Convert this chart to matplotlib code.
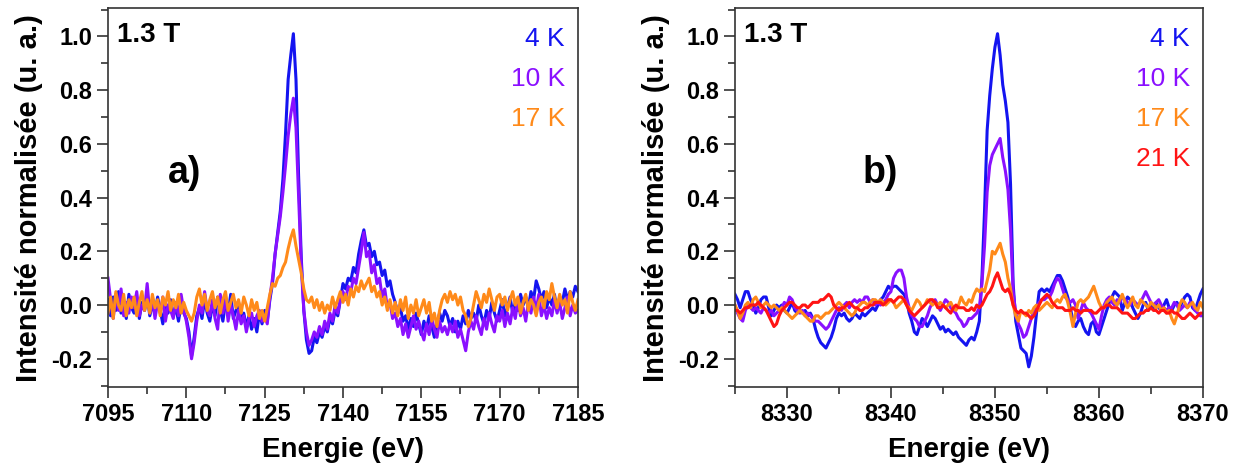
# XMCD spectra at 1.3 T for several temperatures, two edges side by side
import matplotlib
matplotlib.use("Agg")
import matplotlib.pyplot as plt
import numpy as np
from matplotlib.ticker import MultipleLocator

# ---- panel a) : 7095 - 7185 eV, one point every 0.5 eV ----
energy_a = np.linspace(7095, 7185, 181)

blue_a = [
    0.02, -0.04, 0.03, -0.02, 0.05, -0.03, 0.00, -0.05, 0.04, -0.01,
    -0.03, 0.02, -0.05, 0.01, -0.02, 0.04, -0.04, 0.00, -0.03, 0.03,
    -0.02, -0.07, 0.01, -0.03, 0.02, -0.04, -0.01, -0.06, 0.00, -0.03,
    -0.05, -0.10, -0.19, -0.12, -0.04, -0.01, -0.05, 0.02, -0.03, -0.06,
    0.00, -0.04, 0.03, -0.02, -0.06, 0.01, -0.03, 0.04, -0.05, -0.02,
    0.01, -0.06, -0.03, -0.08, -0.04, -0.09, -0.05, -0.10, -0.03, -0.07,
    -0.02, -0.06, 0.02, 0.08, 0.19, 0.27, 0.35, 0.47, 0.64, 0.84,
    0.93, 1.01, 0.84, 0.48, 0.18, -0.02, -0.13, -0.18, -0.17, -0.12,
    -0.14, -0.10, -0.12, -0.08, -0.10, -0.05, -0.07, -0.02, -0.04, 0.02,
    0.08, 0.06, 0.10, 0.09, 0.14, 0.12, 0.19, 0.24, 0.28, 0.22,
    0.23, 0.18, 0.20, 0.15, 0.16, 0.11, 0.13, 0.07, 0.09, 0.04,
    0.01, -0.03, -0.01, -0.06, -0.04, -0.09, -0.05, -0.08, -0.03, -0.07,
    -0.11, -0.06, -0.09, -0.04, -0.08, -0.12, -0.07, -0.03, -0.06, -0.02,
    -0.04, -0.08, -0.05, -0.10, -0.06, -0.09, -0.04, -0.07, -0.02, -0.05,
    -0.03, -0.06, 0.00, -0.04, -0.07, -0.02, -0.05, 0.01, -0.03, -0.06,
    -0.02, 0.02, -0.04, -0.01, 0.03, -0.03, 0.01, -0.02, 0.04, 0.00,
    0.03, -0.01, 0.05, 0.02, 0.09, 0.06, 0.02, 0.05, -0.01, 0.03,
    0.00, 0.04, -0.02, 0.03, 0.01, 0.06, 0.02, 0.05, 0.03, 0.07,
    0.05,
]

purple_a = [
    0.10, 0.02, -0.05, 0.04, -0.02, 0.06, -0.04, 0.01, -0.03, 0.03,
    -0.01, 0.05, -0.04, 0.00, -0.02, 0.08, -0.03, 0.02, -0.05, 0.01,
    -0.03, 0.03, -0.06, 0.00, -0.02, -0.05, 0.01, -0.04, 0.04, -0.02,
    -0.06, -0.12, -0.20, -0.14, -0.06, 0.00, -0.03, 0.05, -0.02, -0.04,
    0.02, -0.05, -0.09, 0.04, -0.03, 0.03, -0.06, 0.00, -0.04, -0.09,
    -0.02, -0.07, -0.04, -0.10, -0.05, -0.03, -0.08, -0.04, -0.02, -0.06,
    -0.04, -0.07, 0.03, 0.10, 0.19, 0.26, 0.33, 0.42, 0.52, 0.63,
    0.71, 0.77, 0.66, 0.40, 0.15, -0.02, -0.10, -0.15, -0.13, -0.10,
    -0.12, -0.08, -0.11, -0.06, -0.09, -0.03, -0.06, 0.00, -0.03, 0.02,
    0.05, 0.02, 0.07, 0.05, 0.10, 0.08, 0.14, 0.20, 0.27, 0.18,
    0.20, 0.12, 0.15, 0.08, 0.10, 0.03, 0.06, -0.01, 0.01, -0.05,
    -0.03, -0.08, -0.05, -0.11, -0.07, -0.12, -0.08, -0.04, -0.09, -0.06,
    -0.10, -0.13, -0.07, -0.11, -0.05, -0.09, -0.12, -0.06, -0.10, -0.08,
    -0.11, -0.07, -0.10, -0.06, -0.12, -0.09, -0.13, -0.17, -0.10, -0.06,
    -0.09, -0.04, -0.08, -0.11, -0.05, -0.09, -0.03, -0.07, -0.10, -0.04,
    -0.06, -0.02, -0.08, -0.03, -0.07, -0.01, -0.05, 0.02, -0.04, -0.01,
    -0.06, 0.01, -0.03, 0.03, -0.02, 0.04, -0.04, 0.00, -0.05, -0.01,
    -0.04, 0.02, -0.03, 0.01, -0.05, -0.01, 0.03, -0.04, 0.00, -0.03,
    -0.02,
]

orange_a = [
    -0.03, 0.03, -0.05, 0.05, 0.00, -0.02, 0.04, -0.04, 0.02, -0.01,
    0.03, -0.04, 0.01, 0.05, -0.02, 0.02, -0.03, 0.04, -0.01, 0.02,
    -0.04, 0.03, 0.00, 0.05, -0.02, 0.02, -0.01, 0.04, -0.03, 0.01,
    -0.02, -0.04, -0.06, -0.03, 0.03, 0.06, 0.00, 0.04, -0.02, 0.02,
    0.05, -0.01, 0.03, -0.03, 0.02, 0.05, -0.02, 0.01, 0.04, -0.01,
    0.02, -0.03, 0.03, 0.00, -0.04, 0.02, -0.02, 0.01, -0.05, -0.02,
    -0.06, -0.01, 0.04, 0.08, 0.07, 0.10, 0.11, 0.14, 0.16, 0.21,
    0.25, 0.28, 0.22, 0.17, 0.12, 0.06, 0.02, 0.01, 0.03, -0.01,
    0.02, -0.02, 0.01, -0.03, 0.00, -0.02, 0.03, -0.01, 0.02, 0.05,
    0.01, 0.04, 0.00, 0.06, 0.03, 0.07, 0.05, 0.09, 0.06, 0.08,
    0.10, 0.05, 0.07, 0.03, 0.05, 0.00, 0.03, -0.02, 0.02, -0.03,
    0.01, -0.04, 0.02, -0.02, 0.03, -0.05, 0.00, -0.03, 0.02, -0.04,
    -0.01, 0.02, -0.03, 0.01, -0.06, -0.03, -0.08, -0.02, 0.02, 0.04,
    0.01, 0.05, 0.02, 0.04, 0.00, 0.03, -0.02, -0.04, -0.08, -0.05,
    0.00, 0.05, 0.02, -0.01, 0.04, 0.01, 0.06, 0.02, -0.02, 0.03,
    0.04, 0.00, 0.03, -0.02, 0.02, 0.05, 0.00, 0.03, -0.03, 0.01,
    0.04, -0.02, 0.02, 0.00, -0.04, 0.01, 0.03, -0.01, 0.05, 0.02,
    0.08, 0.03, -0.01, 0.04, 0.00, 0.02, -0.03, 0.05, 0.01, -0.02,
    0.02,
]

# ---- panel b) : 8325 - 8370 eV, one point every 0.25 eV ----
energy_b = np.linspace(8325, 8370, 181)

blue_b = [
    0.04, 0.02, -0.01, 0.02, 0.05, 0.05, 0.02, 0.00,
    -0.03, -0.01, 0.02, 0.03, 0.03, -0.01, -0.04, -0.02,
    0.00, -0.01, 0.00, -0.02, -0.03, -0.01, 0.01, -0.02,
    -0.03, -0.02, -0.03, -0.02, -0.04, -0.03, -0.05, -0.09,
    -0.12, -0.14, -0.15, -0.16, -0.14, -0.12, -0.09, -0.05,
    -0.03, -0.04, -0.03, -0.05, -0.06, -0.05, -0.03, -0.04,
    -0.05, -0.03, -0.04, -0.03, -0.02, -0.01, -0.02, 0.00,
    0.02, 0.03, 0.05, 0.07, 0.06, 0.07, 0.07, 0.06,
    0.05, 0.04, 0.02, -0.03, -0.06, -0.10, -0.11, -0.08,
    -0.05, -0.06, -0.08, -0.06, -0.04, -0.05, -0.07, -0.09,
    -0.08, -0.10, -0.09, -0.10, -0.11, -0.10, -0.12, -0.13,
    -0.14, -0.15, -0.13, -0.12, -0.13, -0.10, -0.06, 0.10,
    0.35, 0.65, 0.78, 0.88, 0.96, 1.01, 0.93, 0.82,
    0.76, 0.68, 0.45, 0.08, -0.06, -0.11, -0.16, -0.17,
    -0.18, -0.23, -0.19, -0.12, -0.03, 0.05, 0.06, 0.05,
    0.06, 0.05, 0.07, 0.09, 0.11, 0.11, 0.09, 0.06,
    0.03, -0.01, -0.06, -0.08, -0.06, -0.05, -0.08, -0.10,
    -0.11, -0.07, -0.06, -0.10, -0.11, -0.08, -0.05, -0.02,
    0.01, 0.03, 0.05, 0.04, 0.03, -0.02, 0.01, 0.03,
    0.02, -0.01, -0.03, -0.05, -0.03, 0.00, 0.01, -0.02,
    0.00, -0.01, 0.01, -0.01, -0.02, 0.00, 0.02, -0.01,
    -0.02, 0.00, 0.01, -0.01, 0.01, 0.03, 0.04, 0.03,
    -0.01, -0.02, 0.01, 0.04, 0.06,
]

purple_b = [
    0.00, -0.03, -0.05, -0.06, -0.02, 0.00, -0.01, -0.02,
    -0.01, -0.02, -0.03, -0.01, -0.02, -0.03, -0.02, -0.04,
    -0.03, -0.02, -0.01, 0.01, 0.00, 0.03, 0.02, -0.01,
    -0.02, -0.03, -0.02, -0.04, -0.03, -0.04, -0.05, -0.06,
    -0.06, -0.07, -0.08, -0.09, -0.08, -0.06, -0.04, -0.02,
    -0.01, -0.02, 0.00, 0.01, -0.01, 0.01, 0.02, 0.01,
    0.02, 0.01, 0.03, 0.03, 0.01, 0.02, 0.00, 0.01,
    0.00, 0.01, 0.02, 0.04, 0.05, 0.10, 0.12, 0.13,
    0.13, 0.10, 0.03, -0.01, -0.04, -0.05, -0.06, -0.08,
    -0.08, -0.06, -0.04, -0.01, 0.01, 0.02, 0.00, -0.02,
    0.00, 0.02, 0.01, -0.01, -0.02, -0.03, -0.05, -0.06,
    -0.08, -0.07, -0.05, -0.05, -0.04, -0.03, -0.01, 0.08,
    0.22, 0.42, 0.52, 0.56, 0.58, 0.60, 0.62, 0.55,
    0.50, 0.43, 0.28, 0.05, -0.03, -0.07, -0.09, -0.12,
    -0.11, -0.08, -0.05, -0.02, -0.01, 0.01, 0.02, 0.02,
    0.03, 0.03, 0.05, 0.08, 0.10, 0.09, 0.06, 0.03,
    0.02, 0.01, 0.02, 0.00, -0.05, -0.02, 0.01, -0.01,
    -0.02, -0.03, -0.05, -0.07, -0.09, -0.04, 0.00, 0.02,
    0.03, 0.01, 0.00, 0.02, 0.01, 0.03, 0.02, 0.01,
    0.00, 0.02, 0.01, 0.00, 0.01, 0.03, 0.05, 0.03,
    0.01, 0.00, 0.01, 0.02, 0.00, -0.01, -0.02, -0.01,
    -0.01, 0.01, 0.00, -0.02, -0.01, 0.00, -0.01, 0.01,
    0.00, -0.02, -0.03, -0.04, -0.04,
]

orange_b = [
    0.00, -0.02, -0.05, -0.03, 0.00, 0.01, -0.01, 0.02,
    0.03, 0.01, -0.01, 0.00, 0.01, 0.00, -0.01, 0.00,
    -0.01, -0.02, -0.01, -0.02, -0.03, -0.04, -0.05, -0.04,
    -0.03, -0.02, -0.03, -0.04, -0.05, -0.06, -0.06, -0.04,
    -0.04, -0.05, -0.04, -0.03, -0.03, -0.02, -0.01, 0.00,
    0.01, 0.00, -0.01, -0.02, -0.03, -0.04, -0.03, -0.01,
    0.00, 0.01, 0.01, 0.00, 0.01, 0.02, 0.02, 0.01,
    0.02, 0.01, 0.00, 0.01, 0.02, 0.01, -0.01, 0.00,
    0.01, 0.02, 0.00, -0.01, -0.02, 0.00, 0.02, 0.01,
    -0.01, 0.00, 0.02, 0.01, 0.00, 0.01, 0.00, 0.01,
    0.00, -0.01, 0.00, 0.01, -0.01, -0.02, 0.00, 0.03,
    0.01, 0.00, 0.02, 0.01, 0.04, 0.06, 0.05, 0.06,
    0.05, 0.09, 0.13, 0.20, 0.19, 0.21, 0.23, 0.19,
    0.16, 0.10, 0.06, 0.00, -0.04, -0.06, -0.02, -0.03,
    -0.04, -0.02, -0.03, -0.01, 0.00, -0.02, -0.01, 0.00,
    0.01, 0.00, -0.01, 0.01, 0.02, 0.01, 0.03, 0.04,
    0.01, -0.03, -0.08, -0.03, 0.01, 0.02, 0.01, 0.02,
    0.03, 0.05, 0.07, 0.04, 0.01, -0.01, -0.01, 0.01,
    0.02, 0.03, 0.01, 0.00, 0.02, 0.04, 0.01, -0.01,
    0.01, 0.03, 0.00, -0.01, 0.02, 0.01, 0.00, -0.01,
    0.01, 0.00, -0.01, 0.00, -0.02, -0.01, -0.03, -0.02,
    -0.05, -0.07, -0.04, 0.00, 0.02, 0.01, -0.01, 0.00,
    0.01, -0.01, -0.02, 0.01, -0.01,
]

red_b = [
    -0.02, -0.02, -0.03, -0.02, -0.01, -0.01, 0.00, 0.00,
    0.00, 0.01, 0.00, -0.01, -0.02, -0.04, -0.06, -0.08,
    -0.07, -0.04, -0.02, -0.01, 0.00, 0.01, 0.01, 0.00,
    -0.01, -0.01, 0.00, 0.00, -0.01, 0.00, 0.01, 0.01,
    0.01, 0.02, 0.02, 0.03, 0.04, 0.03, 0.00, -0.01,
    -0.02, -0.01, -0.01, 0.00, 0.01, 0.00, -0.01, -0.01,
    -0.02, -0.02, -0.01, -0.01, 0.00, 0.00, 0.01, 0.01,
    0.01, 0.00, 0.01, 0.02, 0.02, 0.01, 0.02, 0.03,
    0.03, 0.02, 0.00, -0.02, -0.03, -0.04, -0.03, -0.02,
    -0.01, 0.00, 0.01, 0.02, 0.02, 0.01, -0.01, -0.01,
    0.00, -0.01, -0.02, -0.03, -0.01, 0.00, -0.01, -0.01,
    -0.01, -0.02, -0.02, -0.01, -0.02, 0.00, -0.01, 0.00,
    0.02, 0.04, 0.05, 0.07, 0.10, 0.12, 0.09, 0.06,
    0.05, 0.06, 0.04, 0.00, -0.02, -0.03, -0.02, -0.03,
    -0.03, -0.04, -0.05, -0.04, -0.02, 0.00, 0.02, 0.03,
    0.04, 0.03, 0.01, 0.00, -0.01, -0.01, -0.01, -0.02,
    -0.02, -0.02, -0.01, -0.02, -0.02, -0.03, -0.02, -0.02,
    -0.02, -0.02, -0.03, -0.03, -0.02, -0.01, -0.01, 0.00,
    0.00, -0.01, -0.01, -0.01, -0.02, -0.03, -0.03, -0.03,
    -0.04, -0.05, -0.05, -0.04, -0.03, -0.03, -0.02, -0.02,
    -0.01, -0.02, -0.02, -0.03, -0.02, -0.02, -0.03, -0.03,
    -0.02, -0.03, -0.03, -0.04, -0.05, -0.05, -0.04, -0.03,
    -0.04, -0.05, -0.04, -0.03, -0.03,
]

labels_a = ["4 K", "10 K", "17 K"]
labels_b = ["4 K", "10 K", "17 K", "21 K"]
colors = ["#1414f0", "#8a10ff", "#ff8a1a", "#ff1414"]

plt.rcParams["font.family"] = ["Liberation Sans", "DejaVu Sans"]
plt.rcParams["axes.unicode_minus"] = False


def style_axes(ax, xmin, xmax, xmajor, xminor):
    ax.set_xlim(xmin, xmax)
    ax.set_ylim(-0.305, 1.105)
    ax.xaxis.set_major_locator(MultipleLocator(xmajor))
    ax.xaxis.set_minor_locator(MultipleLocator(xminor))
    ax.yaxis.set_major_locator(MultipleLocator(0.2))
    ax.yaxis.set_minor_locator(MultipleLocator(0.1))
    ax.tick_params(which="both", direction="out", top=False, right=False,
                   width=1.2, color="#333333")
    ax.tick_params(which="major", length=8, labelsize=17)
    ax.tick_params(which="minor", length=5)
    for lab in ax.get_xticklabels() + ax.get_yticklabels():
        lab.set_fontweight("bold")
    for sp in ax.spines.values():
        sp.set_linewidth(1.2)
        sp.set_color("#333333")
    ax.set_xlabel("Energie (eV)", fontsize=20, fontweight="bold", labelpad=8)
    ax.set_ylabel("Intensité normalisée (u. a.)", fontsize=21,
                  fontweight="bold", labelpad=6)
    ax.text(0.02, 0.93, "1.3 T", transform=ax.transAxes, fontsize=20,
            fontweight="bold", va="center", ha="left")


def draw_panel(ax, energy, series, labels, tag, tag_x):
    for values, col in zip(series, colors):
        ax.plot(energy, values, color=col, lw=2.2)
    for i, (lab, col) in enumerate(zip(labels, colors)):
        ax.text(0.972, 0.918 - i * 0.105, lab, transform=ax.transAxes,
                fontsize=19, color=col, ha="right", va="center")
    ax.text(tag_x, 0.565, tag, transform=ax.transAxes, fontsize=27,
            fontweight="bold", ha="center", va="center")


def main():
    fig = plt.figure(figsize=(12.4, 4.7), dpi=100)
    ax_a = fig.add_axes([0.0871, 0.1766, 0.379, 0.806])
    ax_b = fig.add_axes([0.5927, 0.1766, 0.3774, 0.806])

    draw_panel(ax_a, energy_a, [blue_a, purple_a, orange_a], labels_a, "a)", 0.162)
    style_axes(ax_a, 7095, 7185, 15, 7.5)

    draw_panel(ax_b, energy_b, [blue_b, purple_b, orange_b, red_b], labels_b, "b)", 0.31)
    style_axes(ax_b, 8325, 8370, 10, 5)

    fig.savefig("out.png", dpi=100)


main()
